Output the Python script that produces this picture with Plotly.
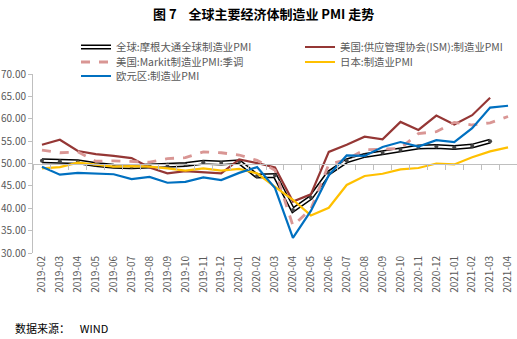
import plotly.graph_objects as go

months = ["2019-02", "2019-03", "2019-04", "2019-05", "2019-06", "2019-07", "2019-08",
          "2019-09", "2019-10", "2019-11", "2019-12", "2020-01", "2020-02", "2020-03",
          "2020-04", "2020-05", "2020-06", "2020-07", "2020-08", "2020-09", "2020-10",
          "2020-11", "2020-12", "2021-01", "2021-02", "2021-03", "2021-04"]

global_pmi = [50.6, 50.5, 50.4, 49.8, 49.4, 49.3, 49.5, 49.7, 49.8, 50.3, 50.1, 50.4, 47.2,
              47.3, 39.6, 42.4, 47.9, 50.6, 51.8, 52.4, 53.0, 53.7, 53.8, 53.6, 53.9, 55.0, None]
us_ism = [54.2, 55.3, 52.8, 52.1, 51.7, 51.2, 49.1, 47.8, 48.3, 48.1, 47.8, 50.9, 50.1,
          49.1, 41.5, 43.1, 52.6, 54.2, 56.0, 55.4, 59.3, 57.5, 60.7, 58.7, 60.8, 64.7, None]
us_markit = [53.0, 52.4, 52.6, 50.5, 50.6, 50.4, 50.3, 51.1, 51.3, 52.6, 52.4, 51.9, 50.7,
             48.5, 36.1, 39.8, 49.8, 50.9, 53.1, 53.2, 53.4, 56.7, 57.1, 59.2, 58.6, 59.1, 60.5]
japan = [48.9, 49.2, 50.2, 49.8, 49.3, 49.4, 49.3, 48.9, 48.4, 48.9, 48.4, 48.8, 47.8,
         44.8, 41.9, 38.4, 40.1, 45.2, 47.2, 47.7, 48.7, 49.0, 50.0, 49.8, 51.4, 52.7, 53.6]
eurozone = [49.3, 47.5, 47.9, 47.7, 47.6, 46.5, 47.0, 45.7, 45.9, 46.9, 46.3, 47.9, 49.2,
            44.5, 33.4, 39.4, 47.4, 51.8, 51.7, 53.7, 54.8, 53.8, 55.2, 54.8, 57.9, 62.5, 62.9]

y_ticks = [30, 35, 40, 45, 50, 55, 60, 65, 70]

GREY = "#595959"
FONT = "Noto Sans CJK SC"

# plot area in pixels (used to place the legends in paper units)
W, H = 517, 339
L, R, T, B = 33, 0, 74, 86
PW, PH = W - L - R, H - T - B


def legend_box(px_x, px_top):
    return dict(x=(px_x - L) / PW, y=(H - B - px_top) / PH, xanchor="left", yanchor="top",
                orientation="v", bgcolor="rgba(0,0,0,0)", borderwidth=0,
                font=dict(family=FONT, size=10.4, color=GREY))


fig = go.Figure()

# Global PMI: double line (black outline, white core)
fig.add_trace(go.Scatter(x=months, y=global_pmi, mode="lines", name="全球:摩根大通全球制造业PMI",
                         line=dict(color="black", width=5), legend="legend"))
fig.add_trace(go.Scatter(x=months, y=global_pmi, mode="lines", name=" ",
                         line=dict(color="white", width=2), legend="legend6"))
fig.add_trace(go.Scatter(x=months, y=global_pmi, mode="markers", showlegend=False,
                         marker=dict(size=4, color="#444444")))
fig.add_trace(go.Scatter(x=months, y=us_ism, mode="lines", name="美国:供应管理协会(ISM):制造业PMI",
                         line=dict(color="#953735", width=2.2), legend="legend2"))
fig.add_trace(go.Scatter(x=months, y=us_markit, mode="lines", name="美国:Markit制造业PMI:季调",
                         line=dict(color="#D99694", width=2.8, dash="dash"), legend="legend3"))
fig.add_trace(go.Scatter(x=months, y=japan, mode="lines", name="日本:制造业PMI",
                         line=dict(color="#FFC000", width=2.2), legend="legend4"))
fig.add_trace(go.Scatter(x=months, y=eurozone, mode="lines", name="欧元区:制造业PMI",
                         line=dict(color="#0070C0", width=2.2), legend="legend5"))
# carrier for the axis line drawn at 50
fig.add_trace(go.Scatter(x=months, y=[None] * len(months), xaxis="x2", showlegend=False,
                         hoverinfo="skip"))

fig.update_layout(
    width=W, height=H,
    margin=dict(l=L, r=R, t=T, b=B),
    paper_bgcolor="white", plot_bgcolor="white",
    font=dict(family=FONT, color=GREY, size=10),
    title=dict(text="<b>图 7    全球主要经济体制造业 PMI 走势</b>", x=0.51, xanchor="center",
               y=0.958, yanchor="middle", font=dict(family=FONT, size=13, color="black")),
    showlegend=True,
    legend=legend_box(76, 32.5),
    legend6=legend_box(76, 32.5),
    legend2=legend_box(300, 32.5),
    legend3=legend_box(76, 47.5),
    legend4=legend_box(300, 47.5),
    legend5=legend_box(76, 61.5),
    xaxis=dict(type="category", categoryorder="array", categoryarray=months,
               range=[-0.5, len(months) - 0.5], showline=False, ticks="", showgrid=False,
               tickangle=-90, tickfont=dict(size=10, color=GREY), zeroline=False),
    xaxis2=dict(type="category", categoryorder="array", categoryarray=months,
                range=[-0.5, len(months) - 0.5], overlaying="x", anchor="free",
                position=(50 - 30) / (70 - 30), showline=True, linecolor="#BFBFBF", linewidth=1,
                ticks="outside", ticklen=5, tickcolor="#BFBFBF", tickson="boundaries",
                showticklabels=False, showgrid=False, zeroline=False),
    yaxis=dict(range=[30, 70], tickvals=y_ticks, ticktext=[f"{v:.2f}" for v in y_ticks],
               showline=True, linecolor="#BFBFBF", linewidth=1, ticks="outside", ticklen=4,
               tickcolor="#BFBFBF", showgrid=False, zeroline=False,
               tickfont=dict(size=10, color=GREY)),
    annotations=[dict(text="数据来源：    WIND", xref="paper", yref="paper",
                      x=-20 / PW, y=-(328 - (H - B)) / PH,
                      xanchor="left", yanchor="middle", showarrow=False,
                      font=dict(family=FONT, size=11, color="black"))],
)

fig.write_html("out.html")
